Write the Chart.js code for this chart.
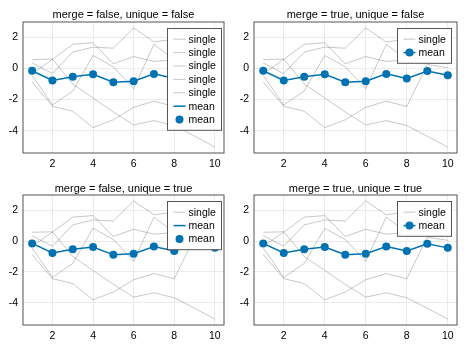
<!DOCTYPE html>
<html>
<head>
<meta charset="utf-8">
<script src="https://cdn.jsdelivr.net/npm/chart.js@4"></script>
<style>
  body { margin: 0; background: #fff; width: 466px; height: 350px; position: relative; overflow: hidden; }
  canvas { position: absolute; }
</style>
</head>
<body>
<canvas id="p0" width="233" height="175" style="left:0;top:0"></canvas>
<canvas id="p1" width="233" height="175" style="left:233px;top:0"></canvas>
<canvas id="p2" width="233" height="175" style="left:0;top:175px"></canvas>
<canvas id="p3" width="233" height="175" style="left:233px;top:175px"></canvas>
<script>
// values (same data in all four panels)
const xValues = [1, 2, 3, 4, 5, 6, 7, 8, 9, 10];
const single1 = [0.57, 0.6, -1.0, -1.9, -2.8, -3.63, -3.35, -3.67, -4.35, -5.05];
const single2 = [0.35, -0.33, 1.05, 1.37, 1.3, 2.6, 1.7, 1.88, 1.0, 0.5];
const single3 = [-0.35, 0.58, 1.55, 1.65, 0.3, 0.76, 0.45, 0.55, 0.35, 0.35];
const single4 = [-0.45, -2.35, -1.45, 0.83, 0.1, -1.3, 1.55, 0.55, 1.9, 2.0];
const single5 = [-0.87, -2.43, -2.75, -3.8, -3.3, -2.5, -2.1, -2.45, 0.25, 0.05];
const meanValues = [-0.15, -0.77, -0.53, -0.38, -0.89, -0.82, -0.35, -0.64, -0.17, -0.44];

const xTicks = [2, 4, 6, 8, 10];
const yTicks = [-4, -2, 0, 2];

const panelTitles = [
  'merge = false, unique = false',
  'merge = true, unique = false',
  'merge = false, unique = true',
  'merge = true, unique = true'
];
const mergeFlags = [false, true, false, true];
const uniqueFlags = [false, false, true, true];

const singles = [single1, single2, single3, single4, single5];

const GRAY = 'rgba(0,0,0,0.22)';
const BLUE = '#0072b2';
const FONT = "'Liberation Sans', Arial, sans-serif";

// axis limits like Makie: data extent plus 5% each side
const allY = singles.flat().concat(meanValues);
const yLo = Math.min(...allY), yHi = Math.max(...allY);
const xLo = Math.min(...xValues), xHi = Math.max(...xValues);
const yPad = (yHi - yLo) * 0.05, xPad = (xHi - xLo) * 0.05;

// per panel placement inside its canvas
const layouts = [
  { yW: 23, xH: 22, padTop: 22, titleY: 15, legendMargin: 3 },
  { yW: 21, xH: 22, padTop: 22, titleY: 15, legendMargin: 6 },
  { yW: 23, xH: 25, padTop: 20, titleY: 13.5, legendMargin: 3 },
  { yW: 21, xH: 25, padTop: 20, titleY: 13.5, legendMargin: 6 }
];

// merge joins entries with the same label, unique drops identical ones
function legendItems(merge, unique) {
  if (merge) {
    return [
      { label: 'single', line: GRAY, lineWidth: 1 },
      { label: 'mean', line: BLUE, lineWidth: 1.5, marker: BLUE }
    ];
  }
  const items = [];
  const n = unique ? 1 : singles.length;
  for (let i = 0; i < n; i++) items.push({ label: 'single', line: GRAY, lineWidth: 1 });
  items.push({ label: 'mean', line: BLUE, lineWidth: 1.5 });
  items.push({ label: 'mean', marker: BLUE });
  return items;
}

const panelDecor = {
  id: 'panelDecor',
  afterDraw(chart, args, opts) {
    const ctx = chart.ctx;
    const a = chart.chartArea;
    ctx.save();
    // frame
    ctx.strokeStyle = '#555';
    ctx.lineWidth = 1;
    ctx.strokeRect(a.left, a.top, a.right - a.left, a.bottom - a.top);
    // title
    ctx.fillStyle = '#000';
    ctx.font = '11px ' + FONT;
    ctx.textAlign = 'center';
    ctx.textBaseline = 'middle';
    ctx.fillText(opts.title, (a.left + a.right) / 2, opts.titleY);
    // legend box
    const items = opts.items;
    const rowH = 13.4, w = 54, h = items.length * rowH + 8;
    const x0 = Math.round(a.right - opts.legendMargin - w) + 0.5;
    const y0 = Math.round(a.top + 6) + 0.5;
    ctx.fillStyle = '#fff';
    ctx.fillRect(x0, y0, w, h);
    ctx.strokeStyle = '#555';
    ctx.strokeRect(x0, y0, w, h);
    ctx.font = '10.5px ' + FONT;
    ctx.textAlign = 'left';
    items.forEach((it, i) => {
      const cy = y0 + 4 + rowH * (i + 0.5);
      const sx = x0 + 6, ex = x0 + 18;
      if (it.line) {
        ctx.strokeStyle = it.line;
        ctx.lineWidth = it.lineWidth;
        ctx.beginPath();
        ctx.moveTo(sx, cy);
        ctx.lineTo(ex, cy);
        ctx.stroke();
      }
      if (it.marker) {
        ctx.fillStyle = it.marker;
        ctx.beginPath();
        ctx.arc((sx + ex) / 2, cy, 4, 0, Math.PI * 2);
        ctx.fill();
      }
      ctx.fillStyle = '#000';
      ctx.fillText(it.label, x0 + 21, cy + 0.5);
    });
    ctx.restore();
  }
};

function toPoints(arr) {
  return xValues.map((x, i) => ({ x: x, y: arr[i] }));
}

panelTitles.forEach((title, p) => {
  const lay = layouts[p];
  const datasets = [
    {
      data: toPoints(meanValues),
      showLine: false,
      pointRadius: 4,
      pointBackgroundColor: BLUE,
      pointBorderWidth: 0
    },
    {
      data: toPoints(meanValues),
      borderColor: BLUE,
      borderWidth: 1.5,
      pointRadius: 0
    }
  ];
  singles.forEach(s => {
    datasets.push({
      data: toPoints(s),
      borderColor: GRAY,
      borderWidth: 1,
      pointRadius: 0
    });
  });

  new Chart(document.getElementById('p' + p), {
    type: 'line',
    data: { datasets: datasets },
    options: {
      responsive: false,
      animation: false,
      layout: { padding: { left: 0, right: 9, top: lay.padTop, bottom: 0 } },
      plugins: {
        legend: { display: false },
        tooltip: { enabled: false },
        panelDecor: {
          title: title,
          titleY: lay.titleY,
          legendMargin: lay.legendMargin,
          items: legendItems(mergeFlags[p], uniqueFlags[p])
        }
      },
      scales: {
        x: {
          type: 'linear',
          min: xLo - xPad,
          max: xHi + xPad,
          afterBuildTicks: s => { s.ticks = xTicks.map(v => ({ value: v })); },
          afterFit: s => { s.height = lay.xH; },
          grid: { color: '#ebebeb', drawTicks: false },
          border: { display: false },
          ticks: { padding: 5, color: '#000', font: { family: FONT, size: 10.5 } }
        },
        y: {
          type: 'linear',
          min: yLo - yPad,
          max: yHi + yPad,
          afterBuildTicks: s => { s.ticks = yTicks.map(v => ({ value: v })); },
          afterFit: s => { s.width = lay.yW; },
          grid: { color: '#ebebeb', drawTicks: false },
          border: { display: false },
          ticks: { padding: 5, color: '#000', font: { family: FONT, size: 10.5 } }
        }
      }
    },
    plugins: [panelDecor]
  });
});
</script>
</body>
</html>
